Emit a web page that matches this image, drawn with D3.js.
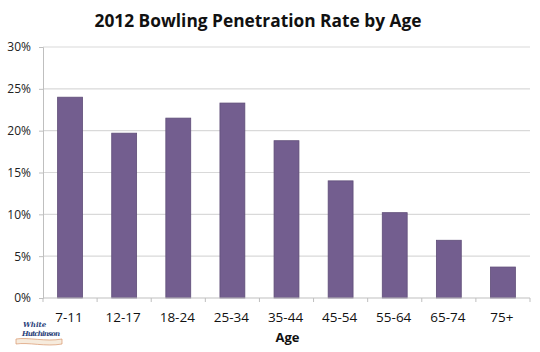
<!DOCTYPE html>
<html>
<head>
<meta charset="utf-8">
<script src="https://cdn.jsdelivr.net/npm/d3@7"></script>
<style>
  body { margin: 0; background: #fff; }
  svg { display: block; font-family: "Open Sans", Lato, sans-serif; }
</style>
</head>
<body>
<div id="chart"></div>
<script>
// data
const ageGroups = ["7-11", "12-17", "18-24", "25-34", "35-44", "45-54", "55-64", "65-74", "75+"];
const penetrationRates = [0.240, 0.197, 0.215, 0.233, 0.188, 0.140, 0.102, 0.069, 0.037];
const yTickValues = [0, 0.05, 0.10, 0.15, 0.20, 0.25, 0.30];

const width = 540, height = 352;
const margin = { top: 47, right: 10, bottom: 54, left: 43 };

const svg = d3.select("#chart").append("svg")
    .attr("width", width)
    .attr("height", height);

const x = d3.scaleBand()
    .domain(ageGroups)
    .range([margin.left, width - margin.right])
    .paddingInner(0.54)
    .paddingOuter(0.27);

const y = d3.scaleLinear()
    .domain([0, 0.30])
    .range([height - margin.bottom, margin.top]);

// gridlines
svg.append("g")
    .selectAll("line")
    .data(yTickValues.slice(1))
    .join("line")
    .attr("x1", margin.left)
    .attr("x2", width - margin.right)
    .attr("y1", d => y(d))
    .attr("y2", d => y(d))
    .attr("stroke", "#d9d9d9")
    .attr("stroke-width", 1.2);

// bars
svg.append("g")
    .selectAll("rect")
    .data(ageGroups)
    .join("rect")
    .attr("x", d => x(d))
    .attr("width", x.bandwidth())
    .attr("y", (d, i) => y(penetrationRates[i]))
    .attr("height", (d, i) => y(0) - y(penetrationRates[i]))
    .attr("fill", "#735e8f")
    .attr("stroke", "#5f4d78")
    .attr("stroke-width", 0.8);

// y axis
const yAxis = svg.append("g")
    .attr("transform", `translate(${margin.left},0)`)
    .call(d3.axisLeft(y).tickValues(yTickValues).tickFormat(d3.format(".0%")).tickSize(4).tickPadding(8));
yAxis.select(".domain").attr("stroke", "#bfbfbf");
yAxis.selectAll(".tick line").attr("stroke", "#bfbfbf");
yAxis.selectAll("text").attr("font-size", 12).attr("fill", "#222").attr("font-family", "'Open Sans', sans-serif");

// x axis: ticks sit between categories
const xAxisG = svg.append("g")
    .attr("transform", `translate(0,${y(0)})`);
xAxisG.append("line")
    .attr("x1", margin.left)
    .attr("x2", width - margin.right)
    .attr("stroke", "#bfbfbf");
const edges = ageGroups.map(d => x(d) - x.step() * x.paddingInner() / 2).concat([width - margin.right]);
xAxisG.selectAll("line.tk")
    .data(edges)
    .join("line")
    .attr("class", "tk")
    .attr("x1", d => d).attr("x2", d => d)
    .attr("y1", 0).attr("y2", 4)
    .attr("stroke", "#bfbfbf");
xAxisG.selectAll("text")
    .data(ageGroups)
    .join("text")
    .attr("x", d => x(d) + x.bandwidth() / 2 - 1)
    .attr("y", 24)
    .attr("text-anchor", "middle")
    .attr("font-size", 13.5)
    .attr("fill", "#111")
    .text(d => d);

// title
svg.append("text")
    .attr("x", 258)
    .attr("y", 27)
    .attr("text-anchor", "middle")
    .attr("font-size", 18.5)
    .attr("font-weight", "bold")
    .attr("fill", "#111")
    .attr("textLength", 327)
    .attr("lengthAdjust", "spacingAndGlyphs")
    .text("2012 Bowling Penetration Rate by Age");

// axis title
svg.append("text")
    .attr("x", (margin.left + width - margin.right) / 2 + 1)
    .attr("y", 342)
    .attr("text-anchor", "middle")
    .attr("font-size", 13)
    .attr("font-weight", "bold")
    .attr("fill", "#111")
    .text("Age");

// logo
const logo = svg.append("g").attr("transform", "translate(20,320)");
logo.append("text")
    .attr("x", 3).attr("y", 7)
    .attr("font-family", "'DejaVu Serif', serif")
    .attr("font-style", "italic").attr("font-weight", "bold")
    .attr("font-size", 7).attr("fill", "#2b3f7a")
    .text("White");
logo.append("text")
    .attr("x", 2).attr("y", 15.5)
    .attr("font-family", "'DejaVu Serif', serif")
    .attr("font-style", "italic").attr("font-weight", "bold")
    .attr("font-size", 7).attr("fill", "#2b3f7a")
    .attr("textLength", 38)
    .text("Hutchinson");
logo.append("path")
    .attr("d", "M-4,19 C8,17 26,22 42,19 L42,24 C26,27 8,22 -4,24 Z")
    .attr("fill", "#f6ebdd")
    .attr("stroke", "#d9956a")
    .attr("stroke-width", 0.7);
</script>
</body>
</html>
